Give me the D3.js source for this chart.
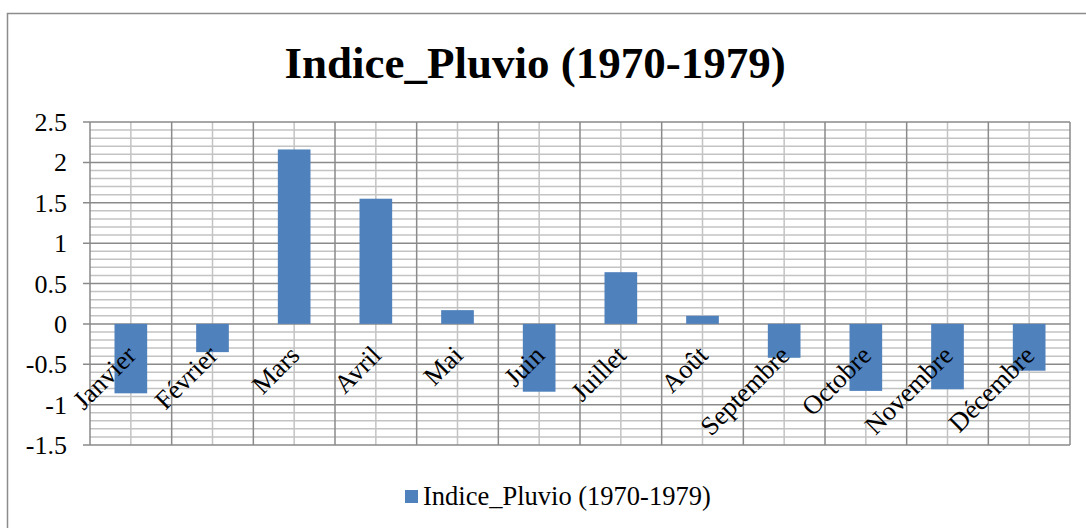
<!DOCTYPE html>
<html>
<head>
<meta charset="utf-8">
<script src="https://cdn.jsdelivr.net/npm/d3@7"></script>
<style>
  body { margin: 0; background: #fff; }
  svg { display: block; font-family: "Liberation Serif", "Times New Roman", serif; }
</style>
</head>
<body>
<svg id="chart" width="1086" height="528"></svg>
<script>
//

const months = ['Janvier', 'Février', 'Mars', 'Avril', 'Mai', 'Juin',
  'Juillet', 'Août', 'Septembre', 'Octobre', 'Novembre', 'Décembre']
const indicePluvio = [-0.86, -0.35, 2.16, 1.55, 0.17, -0.84,
  0.64, 0.10, -0.42, -0.83, -0.81, -0.58]
const yTicks = [-1.5, -1, -0.5, 0, 0.5, 1, 1.5, 2, 2.5]
const seriesName = 'Indice_Pluvio (1970-1979)'

//

const svg = d3.select('#chart')
const margin = {top: 122, right: 16, bottom: 83, left: 90}
const width = 1086 - margin.left - margin.right
const height = 528 - margin.top - margin.bottom

// outer chart frame
svg.append('rect')
  .attr('x', 7.5).attr('y', 13.5)
  .attr('width', 1100).attr('height', 600)
  .attr('fill', 'none')
  .attr('stroke', '#8c8c8c')
  .attr('stroke-width', 1.5)

svg.append('text')
  .attr('x', 535).attr('y', 78)
  .attr('text-anchor', 'middle')
  .attr('font-size', 45)
  .attr('font-weight', 'bold')
  .text(seriesName)

const x = d3.scaleBand().domain(months).range([0, width])
const y = d3.scaleLinear().domain([-1.5, 2.5]).range([height, 0])

const g = svg.append('g')
  .attr('transform', 'translate(' + margin.left + ',' + margin.top + ')')

// minor horizontal grid, every 0.1
const minor = d3.range(-15, 26).filter(d => d % 5 !== 0).map(d => d / 10)
g.selectAll('.hminor').data(minor).enter().append('line')
  .attr('x1', 0).attr('x2', width)
  .attr('y1', d => y(d)).attr('y2', d => y(d))
  .attr('stroke', '#c3c3c3').attr('stroke-width', 1.5)

// minor vertical grid at category centres
g.selectAll('.vminor').data(months).enter().append('line')
  .attr('x1', d => x(d) + x.bandwidth() / 2).attr('x2', d => x(d) + x.bandwidth() / 2)
  .attr('y1', 0).attr('y2', height)
  .attr('stroke', '#c3c3c3').attr('stroke-width', 1.5)

// major horizontal grid + tick marks
g.selectAll('.hmajor').data(yTicks).enter().append('line')
  .attr('x1', -7).attr('x2', width)
  .attr('y1', d => y(d)).attr('y2', d => y(d))
  .attr('stroke', '#8a8a8a').attr('stroke-width', 1.5)

// major vertical grid at category boundaries
const bounds = months.map(d => x(d)).concat([width])
g.selectAll('.vmajor').data(bounds).enter().append('line')
  .attr('x1', d => d).attr('x2', d => d)
  .attr('y1', 0).attr('y2', height)
  .attr('stroke', '#8a8a8a').attr('stroke-width', 1.5)

// y axis labels
g.selectAll('.ylab').data(yTicks).enter().append('text')
  .attr('x', -23)
  .attr('y', d => y(d))
  .attr('dy', '0.35em')
  .attr('text-anchor', 'end')
  .attr('font-size', 26)
  .text(d => d)

// bars
const barW = x.bandwidth() * 0.4
g.selectAll('.bar').data(indicePluvio).enter().append('rect')
  .attr('x', (d, i) => x(months[i]) + (x.bandwidth() - barW) / 2)
  .attr('y', d => y(Math.max(0, d)))
  .attr('width', barW)
  .attr('height', d => Math.abs(y(d) - y(0)))
  .attr('fill', '#4f81bd')

// category labels, rotated
g.selectAll('.xlab').data(months).enter().append('text')
  .attr('transform', d => 'translate(' + (x(d) + x.bandwidth() / 2 + 7) + ',' + (y(0) + 33) + ') rotate(-45)')
  .attr('text-anchor', 'end')
  .attr('font-size', 26.5)
  .text(d => d)

// legend
const legend = svg.append('g').attr('transform', 'translate(405,490)')
legend.append('rect')
  .attr('width', 13).attr('height', 13)
  .attr('fill', '#4f81bd')
legend.append('text')
  .attr('x', 18).attr('y', 15)
  .attr('font-size', 26.5)
  .text(seriesName)
</script>
</body>
</html>
